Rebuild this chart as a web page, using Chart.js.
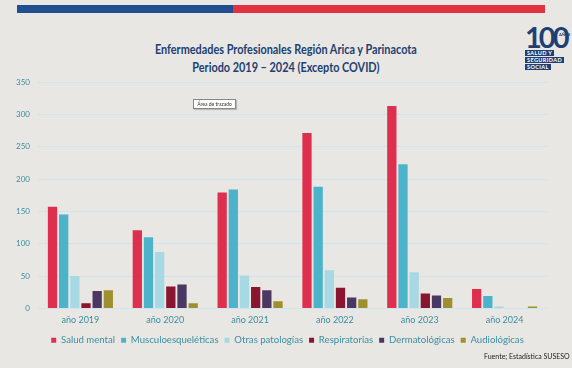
<!DOCTYPE html>
<html>
<head>
<meta charset="utf-8">
<script src="https://cdn.jsdelivr.net/npm/chart.js@4"></script>
<style>
    body { margin: 0; background: #e9e7e3; }
    #wrap { position: relative; width: 572px; height: 368px; overflow: hidden; background: #e9e7e3; }
    #chart { position: absolute; left: 0; top: 0; }
    .band { position: absolute; top: 5px; height: 8px; }
    .title { position: absolute; left: 0; width: 572px; text-align: center; color: #213f72; white-space: nowrap;
             font-family: Lato, sans-serif; font-weight: bold; font-size: 12.5px; transform: scaleX(0.87); transform-origin: 285px 0; }
    .tip { position: absolute; left: 193px; top: 99px; width: 41px; height: 8px; background: #fff; border: 1px solid #888; white-space: nowrap; overflow: hidden;
           font-family: Lato, sans-serif; font-size: 5px; line-height: 8px; color: #333; text-align: center; box-shadow: 1px 1px 1px #bbb; }
    .src { position: absolute; left: 484px; top: 352px; font-family: Lato, sans-serif; font-size: 7px; color: #222; white-space: nowrap; }
    .logo { position: absolute; left: 525px; top: 24px; color: #213f72; font-family: Lato, sans-serif; }
    .logo .num { font-size: 29px; font-weight: bold; line-height: 25px; letter-spacing: -3px; }
    .logo .anos { position: absolute; left: 34px; top: 8px; font-size: 4px; font-weight: bold; }
    .logo .tag { display: block; background: #213f72; color: #fff; font-size: 5.5px; font-weight: bold; line-height: 6px;
                 padding: 0 2px; margin-top: 1px; letter-spacing: 0.4px; width: fit-content; }
</style>
</head>
<body>
<div id="wrap">
    <div class="band" style="left:17px;width:216px;background:#1f4f8e;"></div>
    <div class="band" style="left:233px;width:312px;background:#e2323f;"></div>
    <div class="title" style="top:42px;">Enfermedades Profesionales Región Arica y Parinacota</div>
    <div class="title" style="top:60px;">Periodo 2019 – 2024 (Excepto COVID)</div>
    <div class="logo">
        <div class="num">100</div>
        <div class="anos">AÑOS</div>
        <span class="tag">SALUD Y</span>
        <span class="tag">SEGURIDAD</span>
        <span class="tag">SOCIAL</span>
    </div>
    <canvas id="chart" width="572" height="368"></canvas>
    <div class="tip">Área de trazado</div>
    <div class="src">Fuente; Estadística SUSESO</div>
</div>
<script>
// Data
const years = ['año 2019', 'año 2020', 'año 2021', 'año 2022', 'año 2023', 'año 2024'];
const saludMental = [157, 121, 179, 271, 313, 30];
const musculoesqueleticas = [145, 110, 184, 188, 223, 19];
const otrasPatologias = [50, 87, 51, 59, 56, 3];
const respiratorias = [8, 34, 33, 32, 23, 0];
const dermatologicas = [27, 37, 28, 17, 20, 0];
const audiologicas = [28, 8, 11, 14, 16, 3];

const seriesNames = ['Salud mental', 'Musculoesqueléticas', 'Otras patologías', 'Respiratorias', 'Dermatológicas', 'Audiológicas'];
const seriesColors = ['#de2f4f', '#4bb3ca', '#a6d9e4', '#8a1530', '#4b3862', '#9e902e'];
const seriesData = [saludMental, musculoesqueleticas, otrasPatologias, respiratorias, dermatologicas, audiologicas];

const FONT = "Lato, sans-serif";
const TEAL = '#3a8ea0';

// Legend in the original sits a bit right of the canvas centre
const legendShift = {
    id: 'legendShift',
    beforeDraw(chart) {
        if (chart.legend) chart.legend.left = 28;
    }
};

new Chart(document.getElementById('chart'), {
    type: 'bar',
    data: {
        labels: years,
        datasets: seriesNames.map((name, i) => ({
            label: name,
            data: seriesData[i],
            backgroundColor: seriesColors[i],
            borderWidth: 0,
            categoryPercentage: 0.79,
            barPercentage: 0.83
        }))
    },
    plugins: [legendShift],
    options: {
        responsive: false,
        animation: false,
        layout: {
            padding: { left: 0, right: 25, top: 82, bottom: 13 }
        },
        plugins: {
            tooltip: { enabled: false },
            legend: {
                position: 'bottom',
                labels: {
                    color: TEAL,
                    font: { family: FONT, size: 9.6 },
                    boxWidth: 5,
                    boxHeight: 5,
                    padding: 6
                }
            }
        },
        scales: {
            y: {
                min: 0,
                max: 350,
                ticks: {
                    stepSize: 50,
                    color: TEAL,
                    font: { family: FONT, size: 8 },
                    padding: 8
                },
                grid: { color: '#cde5ee', lineWidth: 1, drawTicks: false },
                border: { display: false },
                afterFit: function(scale) { scale.width = 38; }
            },
            x: {
                ticks: {
                    color: TEAL,
                    font: { family: FONT, size: 9 },
                    padding: 6
                },
                grid: { display: false, drawTicks: false },
                border: { display: false },
                afterFit: function(scale) { scale.height = 21; }
            }
        }
    }
});
</script>
</body>
</html>
